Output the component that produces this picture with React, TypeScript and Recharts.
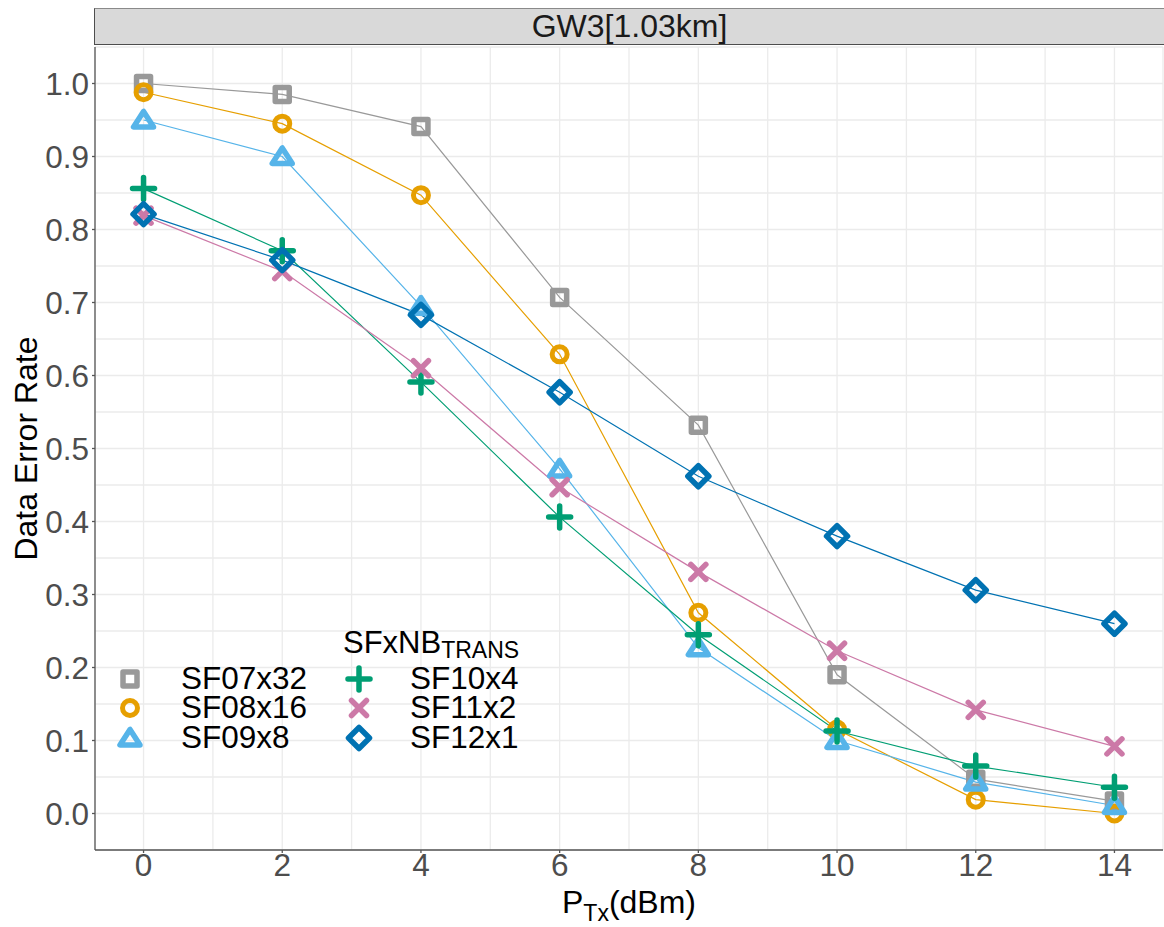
import { LineChart, Line, XAxis, YAxis, CartesianGrid } from 'recharts';

const ptx = [0, 2, 4, 6, 8, 10, 12, 14];
const sf07x32 = [1.0, 0.985, 0.941, 0.707, 0.532, 0.19, 0.047, 0.017];
const sf08x16 = [0.988, 0.945, 0.847, 0.629, 0.275, 0.115, 0.019, 0.0];
const sf09x8 = [0.95, 0.9, 0.695, 0.472, 0.227, 0.1, 0.043, 0.011];
const sf10x4 = [0.856, 0.771, 0.591, 0.406, 0.245, 0.113, 0.065, 0.036];
const sf11x2 = [0.819, 0.743, 0.61, 0.447, 0.331, 0.223, 0.142, 0.092];
const sf12x1 = [0.821, 0.758, 0.683, 0.577, 0.462, 0.38, 0.306, 0.26];

const xTicks = [0, 2, 4, 6, 8, 10, 12, 14];
const yTicks = [0, 0.1, 0.2, 0.3, 0.4, 0.5, 0.6, 0.7, 0.8, 0.9, 1.0];
const xGrid = [0, 1, 2, 3, 4, 5, 6, 7, 8, 9, 10, 11, 12, 13, 14];
const yGrid = [0, 0.05, 0.1, 0.15, 0.2, 0.25, 0.3, 0.35, 0.4, 0.45, 0.5, 0.55, 0.6, 0.65, 0.7, 0.75, 0.8, 0.85, 0.9, 0.95, 1.0];

const panelTitle = 'GW3[1.03km]';

type Shape = 'square' | 'circle' | 'triangle' | 'plus' | 'cross' | 'diamond';

const series: { key: string; name: string; color: string; shape: Shape; values: number[] }[] = [
  { key: 'sf07', name: 'SF07x32', color: '#999999', shape: 'square', values: sf07x32 },
  { key: 'sf08', name: 'SF08x16', color: '#E69F00', shape: 'circle', values: sf08x16 },
  { key: 'sf09', name: 'SF09x8', color: '#56B4E9', shape: 'triangle', values: sf09x8 },
  { key: 'sf10', name: 'SF10x4', color: '#009E73', shape: 'plus', values: sf10x4 },
  { key: 'sf11', name: 'SF11x2', color: '#CC79A7', shape: 'cross', values: sf11x2 },
  { key: 'sf12', name: 'SF12x1', color: '#0072B2', shape: 'diamond', values: sf12x1 },
];

const data = ptx.map((x, i) => {
  const row: Record<string, number> = { x };
  series.forEach(s => {
    row[s.key] = s.values[i];
  });
  return row;
});

const FONT = '"Liberation Sans", Arial, sans-serif';

function Marker({ shape, cx, cy, color }: { shape: Shape; cx: number; cy: number; color: string }) {
  const common = { fill: 'none', stroke: color, strokeWidth: 5, strokeLinejoin: 'round' as const, strokeLinecap: 'round' as const };
  switch (shape) {
    case 'square':
      return <rect x={cx - 7} y={cy - 7} width={14} height={14} {...common} strokeWidth={5.5} />;
    case 'circle':
      return <circle cx={cx} cy={cy} r={7.5} {...common} strokeWidth={5} />;
    case 'triangle':
      return <polygon points={`${cx},${cy - 8.5} ${cx - 10},${cy + 7} ${cx + 10},${cy + 7}`} {...common} strokeWidth={5.5} />;
    case 'plus':
      return <path d={`M${cx - 11},${cy}H${cx + 11}M${cx},${cy - 11}V${cy + 11}`} {...common} strokeWidth={5.5} />;
    case 'cross':
      return <path d={`M${cx - 7.5},${cy - 7.5}L${cx + 7.5},${cy + 7.5}M${cx - 7.5},${cy + 7.5}L${cx + 7.5},${cy - 7.5}`} {...common} strokeWidth={5.5} />;
    case 'diamond':
      return <polygon points={`${cx},${cy - 10.5} ${cx + 10.5},${cy} ${cx},${cy + 10.5} ${cx - 10.5},${cy}`} {...common} strokeWidth={5.5} />;
  }
  return null;
}

function YTitle({ viewBox }: any) {
  const cy = viewBox.y + viewBox.height / 2;
  const x = 37;
  return (
    <text x={x} y={cy} transform={`rotate(-90 ${x} ${cy})`} textAnchor="middle" fontSize={32} fill="#000" fontFamily={FONT}>
      Data Error Rate
    </text>
  );
}

function XTitle({ viewBox }: any) {
  const cx = viewBox.x + viewBox.width / 2;
  return (
    <text x={cx} y={913} textAnchor="middle" fontSize={32} fill="#000" fontFamily={FONT}>
      P
      <tspan fontSize={23} dy={8}>Tx</tspan>
      <tspan dy={-8}>(dBm)</tspan>
    </text>
  );
}

const legendRows = [679, 708, 738];

function LegendOverlay() {
  const left = series.slice(0, 3);
  const right = series.slice(3);
  return (
    <svg width={1164} height={927} style={{ position: 'absolute', left: 0, top: 0, pointerEvents: 'none' }}>
      <text x={343} y={653} fontSize={31} fill="#000" fontFamily={FONT}>
        SFxNB
        <tspan fontSize={23} dy={5}>TRANS</tspan>
      </text>
      {left.map((s, i) => (
        <g key={s.key}>
          <Marker shape={s.shape} cx={130} cy={legendRows[i]} color={s.color} />
          <text x={181} y={legendRows[i] + 10} fontSize={31.5} fill="#000" fontFamily={FONT}>
            {s.name}
          </text>
        </g>
      ))}
      {right.map((s, i) => (
        <g key={s.key}>
          <Marker shape={s.shape} cx={359} cy={legendRows[i]} color={s.color} />
          <text x={410} y={legendRows[i] + 10} fontSize={31.5} fill="#000" fontFamily={FONT}>
            {s.name}
          </text>
        </g>
      ))}
    </svg>
  );
}

export default function App() {
  return (
    <div style={{ position: 'absolute', left: 0, top: 0, width: 1164, height: 927, background: '#fff', fontFamily: FONT }}>
      <div
        style={{
          position: 'absolute',
          left: 94,
          top: 8,
          width: 1070,
          height: 37,
          background: '#D9D9D9',
          borderTop: '1.5px solid #8a8a8a',
          borderBottom: '1.5px solid #4d4d4d',
          borderLeft: '1px solid #4d4d4d',
          boxSizing: 'border-box',
          textAlign: 'center',
          fontSize: 32,
          lineHeight: '34px',
          color: '#1a1a1a',
        }}
      >
        {panelTitle}
      </div>
      <div style={{ position: 'absolute', left: 0, top: 0 }}>
        <LineChart width={1164} height={927} data={data} margin={{ top: 47, right: 1, bottom: 0, left: 0 }}>
          <XAxis xAxisId="grid" type="number" dataKey="x" domain={[-0.7, 14.7]} ticks={xGrid} allowDataOverflow hide />
          <YAxis yAxisId="grid" type="number" domain={[-0.05, 1.05]} ticks={yGrid} allowDataOverflow hide />
          <CartesianGrid xAxisId="grid" yAxisId="grid" stroke="#EBEBEB" strokeWidth={1.3} />
          <XAxis
            dataKey="x"
            type="number"
            domain={[-0.7, 14.7]}
            ticks={xTicks}
            allowDataOverflow
            height={77}
            tickSize={3}
            tickMargin={1}
            axisLine={{ stroke: '#555555', strokeWidth: 1.3 }}
            tickLine={{ stroke: '#555555', strokeWidth: 1.3 }}
            tick={{ fontSize: 31.5, fill: '#4D4D4D', fontFamily: FONT }}
            label={<XTitle />}
          />
          <YAxis
            type="number"
            domain={[-0.05, 1.05]}
            ticks={yTicks}
            allowDataOverflow
            width={95}
            tickSize={3}
            tickMargin={3}
            tickFormatter={(v: number) => v.toFixed(1)}
            axisLine={{ stroke: '#555555', strokeWidth: 1.3 }}
            tickLine={{ stroke: '#555555', strokeWidth: 1.3 }}
            tick={{ fontSize: 31.5, fill: '#4D4D4D', fontFamily: FONT }}
            label={<YTitle />}
          />
          {series.map(s => (
            <Line
              key={s.key}
              dataKey={s.key}
              name={s.name}
              stroke={s.color}
              strokeWidth={1.2}
              type="linear"
              isAnimationActive={false}
              dot={(p: any) => <Marker key={`${s.key}-${p.index}`} shape={s.shape} cx={p.cx} cy={p.cy} color={s.color} />}
              activeDot={false}
            />
          ))}
        </LineChart>
      </div>
      <LegendOverlay />
    </div>
  );
}
